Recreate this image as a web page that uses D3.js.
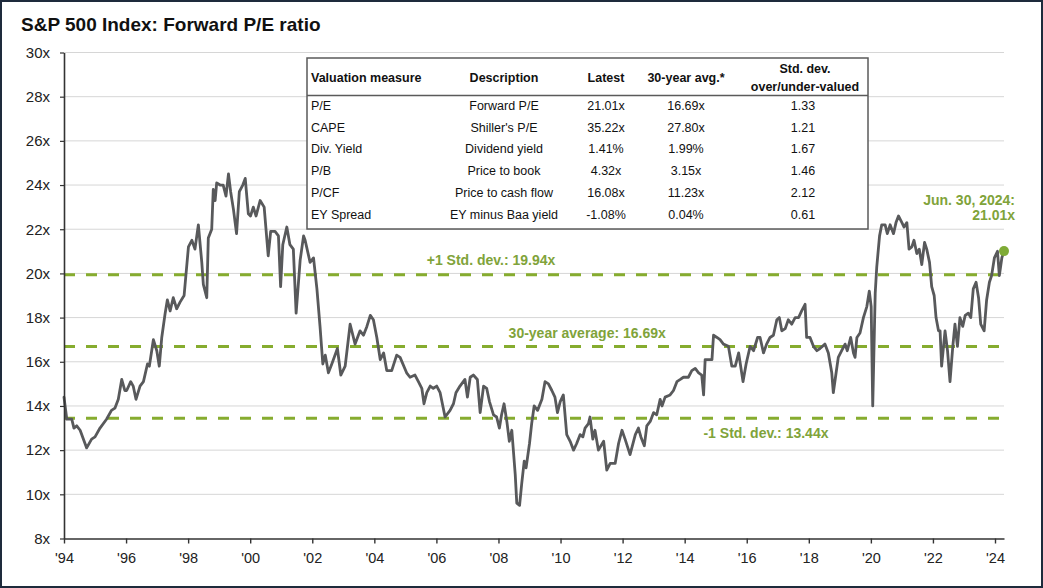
<!DOCTYPE html>
<html><head><meta charset="utf-8">
<script src="https://cdn.jsdelivr.net/npm/d3@7"></script>
<style>
html,body{margin:0;padding:0;background:#fff;}
svg{display:block;font-family:"Liberation Sans",Arial,sans-serif;}
</style></head>
<body><svg id="c" width="1043" height="588"></svg>
<script>
// ---- data ----
const dates = [
1994.00,1994.09,1994.25,1994.32,1994.41,1994.52,1994.73,1994.89,1995.00,1995.16,1995.37,1995.53,1995.64,1995.75,1995.86,1995.96,1996.02,1996.15,1996.23,1996.32,1996.45,1996.56,1996.69,1996.75,1996.88,1996.99,1997.07,1997.15,1997.26,1997.33,1997.42,1997.52,1997.63,1997.74,1997.87,1998.01,1998.12,1998.22,1998.33,1998.44,1998.49,1998.60,1998.65,1998.76,1998.81,1998.87,1998.92,1999.03,1999.13,1999.22,1999.30,1999.37,1999.46,1999.56,1999.65,1999.76,1999.84,1999.94,2000.01,2000.10,2000.19,2000.32,2000.45,2000.58,2000.66,2000.80,2000.91,2000.98,2001.05,2001.18,2001.28,2001.39,2001.48,2001.61,2001.72,
2001.77,2001.93,2002.04,2002.15,2002.25,2002.34,2002.42,2002.52,2002.63,2002.81,2002.92,2003.06,2003.22,2003.38,2003.54,2003.65,2003.76,2003.87,2003.97,2004.08,2004.19,2004.30,2004.40,2004.56,2004.72,
2004.83,2005.04,2005.15,2005.31,2005.42,2005.53,2005.60,2005.69,2005.80,2005.90,2006.01,2006.12,2006.28,2006.44,2006.55,2006.63,2006.76,2006.92,2007.00,2007.09,2007.19,2007.32,2007.41,2007.52,2007.62,2007.71,2007.84,2007.94,2008.03,2008.10,2008.18,2008.27,2008.35,2008.43,2008.54,2008.59,2008.68,2008.75,2008.83,2008.89,2009.00,2009.07,2009.15,2009.26,2009.40,2009.50,2009.61,2009.72,2009.82,2009.90,2009.99,2010.09,2010.20,2010.31,2010.42,2010.52,2010.63,2010.72,2010.79,2010.90,2010.95,2011.04,2011.11,2011.22,
2011.39,2011.49,2011.60,2011.76,2011.87,2011.98,2012.08,2012.24,2012.41,2012.51,2012.59,2012.70,2012.78,2012.89,2013.00,2013.10,2013.21,2013.27,2013.37,2013.53,2013.64,2013.75,2013.86,2013.96,2014.12,2014.23,2014.34,2014.45,2014.55,2014.61,2014.66,2014.77,2014.88,2014.93,2015.04,2015.14,2015.25,2015.41,2015.52,2015.63,2015.74,2015.88,2015.98,2016.11,2016.22,2016.35,
2016.43,2016.54,2016.64,2016.75,2016.86,2016.97,2017.05,2017.13,2017.24,2017.34,2017.45,2017.56,2017.67,2017.77,2017.88,2017.93,2018.04,2018.15,2018.26,2018.36,2018.52,2018.63,2018.74,2018.79,2018.88,2018.95,2019.06,2019.17,2019.24,2019.35,2019.44,2019.49,2019.55,2019.65,2019.76,2019.87,2019.95,2020.01,2020.06,2020.14,2020.19,2020.28,2020.35,2020.46,2020.53,2020.62,2020.73,2020.81,2020.89,2021.00,2021.07,2021.16,2021.23,2021.32,2021.39,2021.48,2021.56,2021.64,2021.73,2021.80,2021.89,2021.96,2022.04,2022.10,2022.18,2022.23,2022.28,2022.39,2022.47,2022.55,2022.64,2022.71,2022.79,2022.87,2022.96,2023.04,2023.14,2023.22,2023.30,2023.39,2023.47,2023.54,2023.65,2023.73,2023.82,2023.89,2023.98,2024.08,2024.14,2024.22,2024.29];

const peValues = [
14.4,13.4,13.4,13.0,13.1,12.9,12.1,12.5,12.6,13.0,13.4,13.8,13.9,14.3,15.2,14.7,14.7,15.1,14.9,14.3,14.9,15.1,15.9,15.8,17.0,16.5,15.8,17.1,18.2,18.8,18.3,18.9,18.4,18.7,19.0,21.2,21.5,21.1,22.2,20.5,19.5,18.9,21.6,22.0,23.8,23.3,24.1,24.0,24.0,23.5,24.5,23.7,22.9,21.8,23.7,24.0,24.3,22.7,22.6,23.0,22.6,23.3,23.0,20.8,21.9,21.9,21.7,19.4,21.3,22.1,21.3,21.1,18.2,20.6,21.7,
21.5,20.5,20.7,19.3,17.6,15.9,16.3,15.5,15.9,16.6,15.4,15.8,17.7,16.8,17.4,17.2,17.6,18.1,17.9,17.1,16.1,16.4,15.6,15.6,16.3,
16.2,15.5,15.3,15.4,15.1,14.8,14.1,14.6,14.9,14.8,14.9,14.6,13.5,13.8,14.1,14.6,14.9,15.2,14.4,15.3,15.4,15.2,13.7,14.9,14.8,14.2,13.6,13.5,13.0,13.6,14.1,13.3,12.4,12.9,10.9,9.6,9.5,10.5,11.5,11.2,12.3,13.2,14.0,13.8,14.3,15.1,15.0,14.7,14.4,13.7,14.2,14.5,12.7,12.4,12.0,12.3,12.7,12.6,13.0,13.2,13.5,12.5,12.9,12.0,
12.4,11.1,11.4,11.4,12.3,12.9,12.5,11.8,12.7,13.0,12.6,12.2,13.1,13.3,13.7,13.6,14.3,14.0,14.4,14.5,14.7,15.1,15.2,15.3,15.3,15.6,15.7,15.5,15.4,14.5,16.1,16.1,16.1,17.2,17.1,17.0,16.8,16.7,15.8,15.8,16.4,15.1,15.9,16.7,16.5,17.1,
17.1,16.4,16.8,17.1,17.2,17.9,18.0,17.4,17.5,17.9,17.7,18.0,18.0,18.3,18.6,17.1,17.1,16.7,16.5,16.6,16.8,16.4,15.5,14.6,15.5,16.2,16.5,16.8,16.5,17.1,16.4,16.2,17.1,17.3,18.0,18.5,19.2,18.5,14.0,19.1,20.3,21.7,22.2,22.2,21.8,22.2,21.8,22.3,22.6,22.3,22.1,22.3,21.1,21.2,21.5,20.9,21.1,20.4,21.4,21.1,20.5,19.4,19.0,18.0,17.4,17.4,15.8,17.4,16.5,15.1,16.7,17.7,16.7,18.0,17.6,18.1,18.2,18.0,19.3,19.6,18.9,17.7,17.4,18.8,19.6,19.9,20.7,21.0,19.9,20.7,21.01];

const yTicks = [8,10,12,14,16,18,20,22,24,26,28,30];
const xTickYears = [1994,1996,1998,2000,2002,2004,2006,2008,2010,2012,2014,2016,2018,2020,2022,2024];
const refValues = [19.94, 16.69, 13.44];
const refLabels = ["+1 Std. dev.: 19.94x", "30-year average: 16.69x", "-1 Std. dev.: 13.44x"];
const refLabelYears = [2007.76, 2010.86, 2016.62];
const lastLabel = ["Jun. 30, 2024:", "21.01x"];

const tableHeaders = ["Valuation measure","Description","Latest","30-year avg.*"];
const stdHeader = ["Std. dev.","over/under-valued"];
const measures = ["P/E","CAPE","Div. Yield","P/B","P/CF","EY Spread"];
const descriptions = ["Forward P/E","Shiller's P/E","Dividend yield","Price to book","Price to cash flow","EY minus Baa yield"];
const latest = ["21.01x","35.22x","1.41%","4.32x","16.08x","-1.08%"];
const avg30 = ["16.69x","27.80x","1.99%","3.15x","11.23x","0.04%"];
const stdDev = ["1.33","1.21","1.67","1.46","2.12","0.61"];

// ---- drawing ----
const svg = d3.select("#c");
const GREEN = "#86ac2f", GREEN_TXT = "#80a33a", LINE = "#58595b";
const x = d3.scaleLinear().domain([1994, 2024.29]).range([64, 1004]);
const y = d3.scaleLinear().domain([8, 30]).range([538.5, 52.5]);
const refLabelDy = [-10, -9, 20];

svg.append("rect").attr("x",1).attr("y",1).attr("width",1041).attr("height",586)
  .attr("fill","#fff").attr("stroke","#1e2b3c").attr("stroke-width",2);

svg.append("text").attr("x",21).attr("y",31).attr("font-size",19).attr("font-weight","bold")
  .attr("fill","#111").text("S&P 500 Index: Forward P/E ratio");

// gridlines
svg.append("g").selectAll("line").data(yTicks.filter(d => d > 8)).join("line")
  .attr("x1", 64).attr("x2", 1004).attr("y1", d => y(d)).attr("y2", d => y(d))
  .attr("stroke", "#d6d6d6").attr("stroke-width", 1);

// reference lines
svg.append("g").selectAll("line").data(refValues).join("line")
  .attr("x1", 64).attr("x2", 1004).attr("y1", d => y(d)).attr("y2", d => y(d))
  .attr("stroke", GREEN).attr("stroke-width", 3).attr("stroke-dasharray", "11,11");

// table
const tg = svg.append("g");
tg.append("rect").attr("x",307).attr("y",58).attr("width",561).attr("height",171)
  .attr("fill","#fff").attr("stroke","#5a5a5a").attr("stroke-width",1.5);
tg.append("line").attr("x1",307).attr("x2",868).attr("y1",95.5).attr("y2",95.5)
  .attr("stroke","#5a5a5a").attr("stroke-width",1.5);
const colX = [311, 504, 606, 686, 803];
const colAnchor = ["start","middle","middle","middle","middle"];
tableHeaders.forEach((h,i) => {
  tg.append("text").attr("x", colX[i]).attr("y", 82).attr("text-anchor", colAnchor[i])
    .attr("font-size", 12.5).attr("font-weight","bold").attr("fill","#111").text(h);
});
stdHeader.forEach((h,i) => {
  tg.append("text").attr("x", 805).attr("y", 73 + i*18).attr("text-anchor","middle")
    .attr("font-size", 12.5).attr("font-weight","bold").attr("fill","#111").text(h);
});
const cols = [measures, descriptions, latest, avg30, stdDev];
measures.forEach((m, r) => {
  cols.forEach((col, i) => {
    tg.append("text").attr("x", colX[i]).attr("y", 110 + r*21.7).attr("text-anchor", colAnchor[i])
      .attr("font-size", 12.5).attr("fill","#111").text(col[r]);
  });
});

// series line
const pts = dates.map((d,i) => [d, peValues[i]]);
svg.append("path").datum(pts)
  .attr("d", d3.line().x(d => x(d[0])).y(d => y(d[1])))
  .attr("fill","none").attr("stroke", LINE).attr("stroke-width", 2.8)
  .attr("stroke-linejoin","round").attr("stroke-linecap","round");

// last point
const last = pts[pts.length-1];
svg.append("circle").attr("cx", x(last[0])).attr("cy", y(last[1])).attr("r", 5).attr("fill", "#7fab36");

// reference labels
svg.append("g").selectAll("text").data(refValues).join("text")
  .attr("x", (d,i) => x(refLabelYears[i])).attr("y", (d,i) => y(d) + refLabelDy[i])
  .attr("text-anchor","middle").attr("font-size", 14).attr("font-weight","bold")
  .attr("fill", GREEN_TXT).text((d,i) => refLabels[i]);
svg.append("g").selectAll("text").data(lastLabel).join("text")
  .attr("x", 1015).attr("y", (d,i) => 205 + i*15).attr("text-anchor","end")
  .attr("font-size", 14).attr("font-weight","bold").attr("fill", GREEN_TXT).text(d => d);

// axes
const xAxis = svg.append("g").attr("transform","translate(0,538.5)")
  .call(d3.axisBottom(x).tickValues(xTickYears).tickFormat(d => "'" + String(d).slice(2)).tickSize(5).tickPadding(9).tickSizeOuter(0));
xAxis.select(".domain").attr("stroke","#333").attr("stroke-width",1.6);
xAxis.selectAll(".tick line").attr("stroke","#333").attr("stroke-width",1.4);
xAxis.selectAll("text").attr("font-size",14.5).attr("fill","#222").attr("font-family","Liberation Sans, Arial, sans-serif");

const yAxis = svg.append("g").attr("transform","translate(64,0)")
  .call(d3.axisLeft(y).tickValues(yTicks).tickFormat(d => d + "x").tickSize(4).tickPadding(10).tickSizeOuter(0));
yAxis.select(".domain").attr("stroke","#333").attr("stroke-width",1.6);
yAxis.selectAll(".tick line").attr("stroke","#333").attr("stroke-width",1.2);
yAxis.selectAll("text").attr("font-size",15).attr("fill","#222").attr("font-family","Liberation Sans, Arial, sans-serif");
</script></body></html>
